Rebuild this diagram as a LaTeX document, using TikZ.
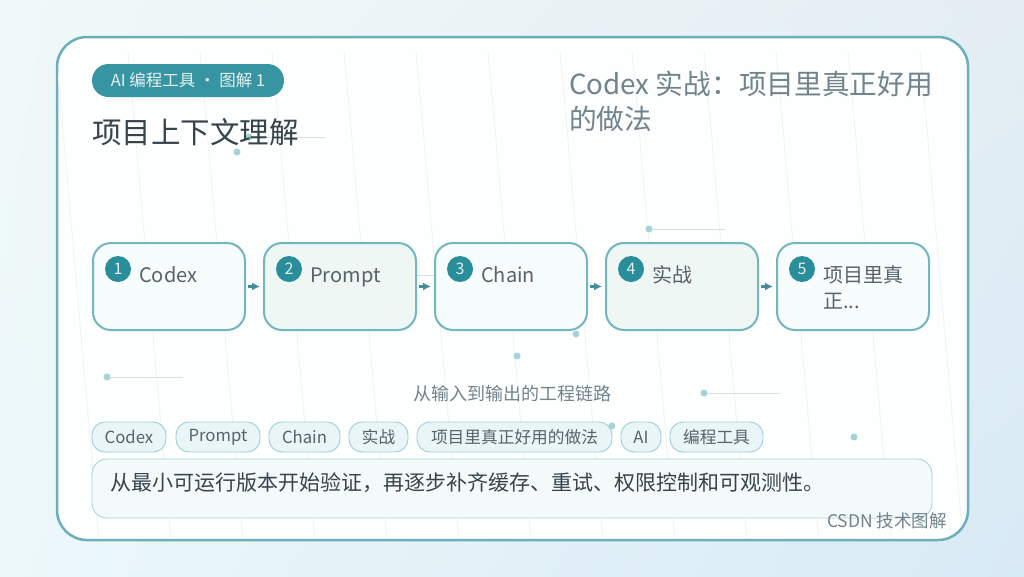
\documentclass[tikz,border=0pt]{standalone}
\usepackage{fontspec}
\setmainfont{Noto Sans CJK SC}
\usetikzlibrary{arrows.meta,shadings}
\definecolor{cardborder}{HTML}{6AAFBA}
\definecolor{boxborder}{HTML}{74B6C0}
\definecolor{pillfill}{HTML}{3795A2}
\definecolor{numfill}{HTML}{2A8D9A}
\definecolor{labeltext}{HTML}{55636B}
\definecolor{titletext}{HTML}{36444C}
\definecolor{subtitle}{HTML}{71838C}
\definecolor{arrowcol}{HTML}{438E99}
\definecolor{dotcol}{HTML}{A7D2D8}
\definecolor{linecol}{HTML}{CFE3E6}
\definecolor{fillA}{HTML}{F7FCFD}
\definecolor{fillB}{HTML}{EEF7F4}
\definecolor{tagfill}{HTML}{E9F5F6}
\definecolor{tagborder}{HTML}{9DCFD6}
\definecolor{notefill}{HTML}{F4F9FA}
\definecolor{noteborder}{HTML}{A8D4DA}
\definecolor{streak}{HTML}{EFF3F5}
\definecolor{bgUL}{HTML}{F0F9F9}
\definecolor{bgUR}{HTML}{E4EEF3}
\definecolor{bgLL}{HTML}{ECF8FA}
\definecolor{bgLR}{HTML}{D8EAF6}
\tikzset{
  stepbox/.style={draw=boxborder, line width=2pt, rounded corners=18pt, minimum width=152pt, minimum height=87pt, inner sep=0pt},
  numdot/.style={circle, fill=numfill, minimum size=26pt, inner sep=0pt, text=white!85!numfill, font=\fontsize{16}{18}\selectfont},
  steplabel/.style={anchor=base west, text=labeltext, inner sep=0pt, font=\fontsize{20}{26}\selectfont, align=left},
  tag/.style={draw=tagborder, fill=tagfill, line width=0.9pt, rounded corners=13pt, minimum height=30pt, inner sep=0pt, text=labeltext, font=\fontsize{16.7}{18}\selectfont},
  flow/.style={draw=arrowcol, line width=2.5pt, -{Latex[length=8pt,width=8pt]}, shorten <=2pt, shorten >=3pt},
  deco/.style={draw=linecol, line width=0.8pt},
  decodot/.style={fill=dotcol},
}
\begin{document}
\begin{tikzpicture}[x=1pt,y=-1pt]
\useasboundingbox (0,0) rectangle (1024,576);
% background
\shade[upper left=bgUL, upper right=bgUR, lower left=bgLL, lower right=bgLR] (0,0) rectangle (1024,576);
% card
\node[draw=cardborder, line width=2.5pt, fill=white!70!fillA, rounded corners=30pt, minimum width=911pt, minimum height=503pt, inner sep=0pt] (card) at (512.5,288.5) {};
\begin{scope}
\clip[rounded corners=30pt] (58,38) rectangle (967,539);
\foreach \k in {0,...,13} {
  \draw[streak, line width=0.8pt] (56+72*\k-72,50) -- (99+72*\k-72,540);
}
\end{scope}
% decorative dots and lines
\draw[deco] (249,137) -- (325,137);
\fill[decodot] (249,137) circle (3.5pt);
\fill[decodot] (237,152) circle (3.5pt);
\draw[deco] (649,229) -- (725,229);
\fill[decodot] (649,229) circle (3.5pt);
\draw[deco] (400,275) -- (470,275);
\fill[decodot] (576,334) circle (3.5pt);
\fill[decodot] (517,356) circle (3.5pt);
\draw[deco] (107,377) -- (183,377);
\fill[decodot] (107,377) circle (3.5pt);
\draw[deco] (704,393) -- (780,393);
\fill[decodot] (704,393) circle (3.5pt);
\fill[decodot] (612,426) circle (3.5pt);
\fill[decodot] (854,437) circle (3.5pt);
% pill
\node[fill=pillfill, rounded corners=16.5pt, minimum width=192pt, minimum height=33pt, inner sep=0pt, text=white!85!pillfill, font=\fontsize{16.5}{18}\selectfont] (pill) at (188,80.5) {AI 编程工具 · 图解 1};
% titles
\node[anchor=base west, inner sep=0pt, text=titletext, font=\fontsize{29.5}{34}\selectfont] (title) at (92,143) {项目上下文理解};
\node[anchor=north west, inner sep=0pt, text=subtitle, font=\fontsize{27.7}{35}\selectfont, align=left] (rtitle) at (569,71) {Codex 实战：项目里真正好用\\的做法};
% step boxes
\node[stepbox, fill=fillA] (b1) at (169,286.5) {};
\node[stepbox, fill=fillB] (b2) at (340,286.5) {};
\node[stepbox, fill=fillA] (b3) at (511,286.5) {};
\node[stepbox, fill=fillB] (b4) at (682,286.5) {};
\node[stepbox, fill=fillA] (b5) at (853,286.5) {};
\foreach \b/\n/\t in {b1/1/Codex, b2/2/Prompt, b3/3/Chain, b4/4/实战} {
  \node[numdot] (n\n) at ([xshift=26pt,yshift=-27pt]\b.north west) {\n};
  \node[steplabel] (l\n) at ([xshift=47pt,yshift=-40pt]\b.north west) {\t};
}
\node[numdot] (n5) at ([xshift=26pt,yshift=-27pt]b5.north west) {5};
\node[steplabel] (l5) at ([xshift=47pt,yshift=-66pt]b5.north west) {项目里真\\正...};
\draw[flow] (b1.east) -- (b2.west);
\draw[flow] (b2.east) -- (b3.west);
\draw[flow] (b3.east) -- (b4.west);
\draw[flow] (b4.east) -- (b5.west);
% subtitle
\node[text=subtitle, inner sep=0pt, font=\fontsize{18}{20}\selectfont] (sub) at (512,394) {从输入到输出的工程链路};
% tags
\node[tag, minimum width=74pt] (t1) at (129,437) {Codex};
\node[tag, minimum width=84pt] (t2) at (218,437) {Prompt};
\node[tag, minimum width=71pt] (t3) at (304.5,437) {Chain};
\node[tag, minimum width=59pt] (t4) at (378.5,437) {实战};
\node[tag, minimum width=195pt] (t5) at (514.5,437) {项目里真正好用的做法};
\node[tag, minimum width=40pt] (t6) at (641,437) {AI};
\node[tag, minimum width=93pt] (t7) at (716.5,437) {编程工具};
% note
\node[draw=noteborder, fill=notefill, line width=0.9pt, rounded corners=15pt, minimum width=840pt, minimum height=59pt, inner sep=0pt] (note) at (512,488.5) {};
\node[anchor=west, inner sep=0pt, text=titletext, font=\fontsize{21}{24}\selectfont] (notetext) at (110,483) {从最小可运行版本开始验证，再逐步补齐缓存、重试、权限控制和可观测性。};
% footer
\node[anchor=east, inner sep=0pt, text=subtitle, font=\fontsize{17.5}{19}\selectfont] (footer) at (947,521) {CSDN 技术图解};
\end{tikzpicture}
\end{document}
